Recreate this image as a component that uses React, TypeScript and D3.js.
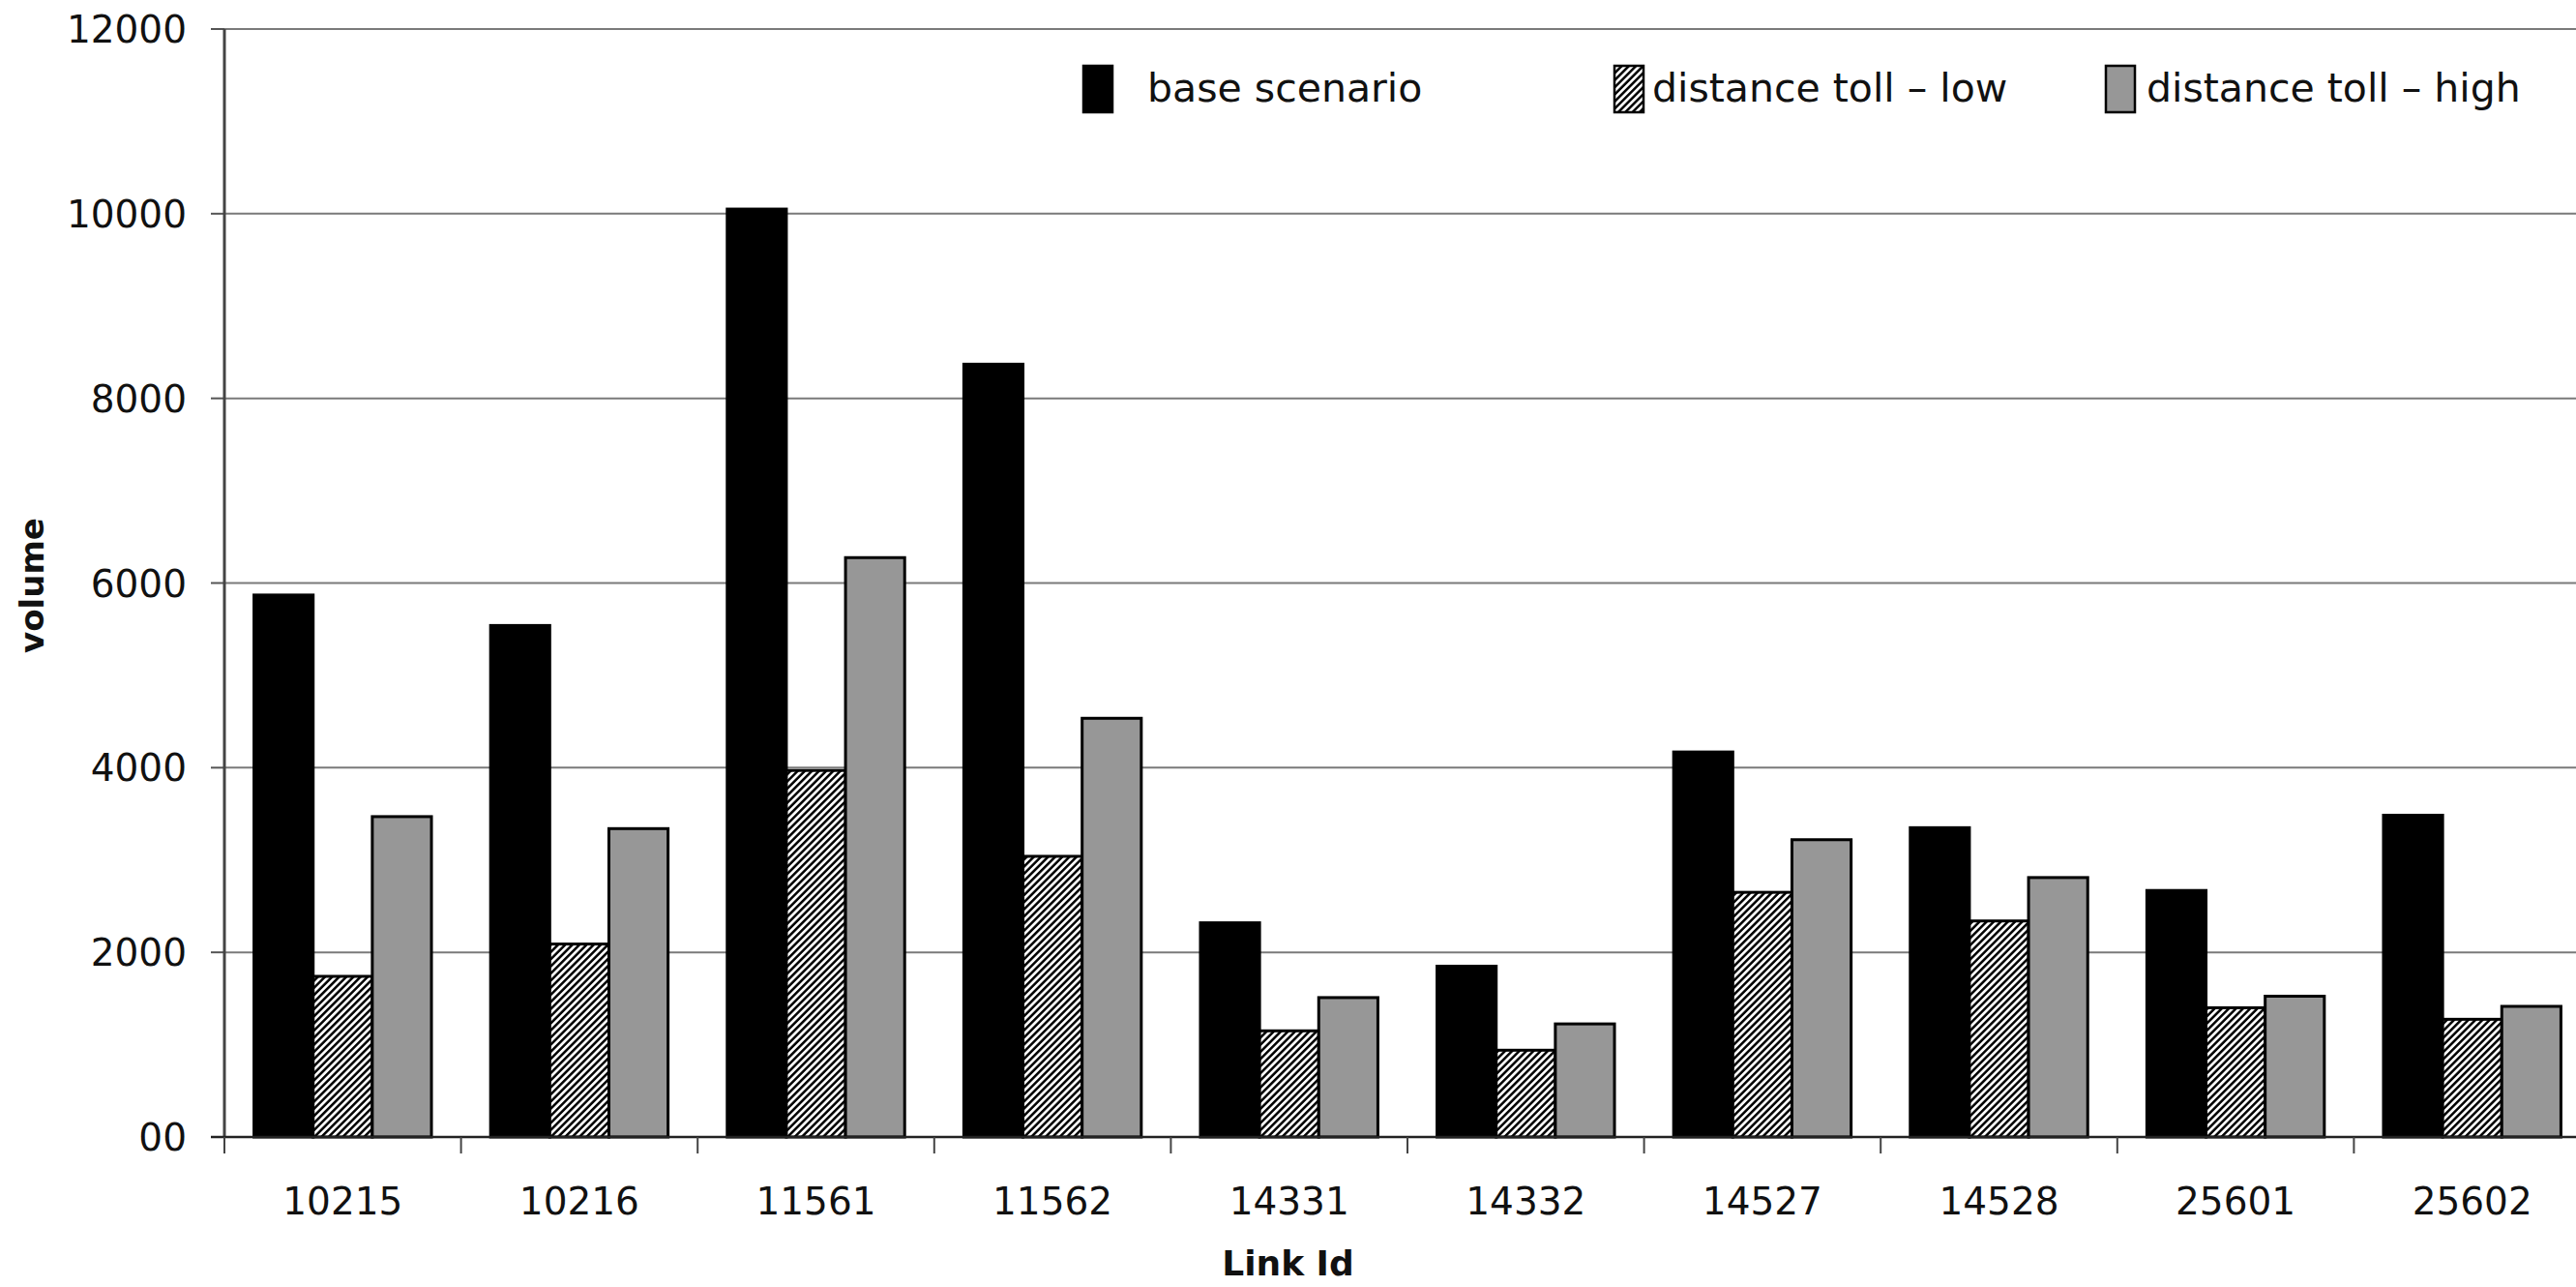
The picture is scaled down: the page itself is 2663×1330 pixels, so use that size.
import React from "react";
import * as d3 from "d3";

const categories = ["10215", "10216", "11561", "11562", "14331", "14332", "14527", "14528", "25601", "25602"];
const seriesNames = ["base scenario", "distance toll \u2013 low", "distance toll \u2013 high"];
const baseScenario = [5870, 5540, 10050, 8370, 2320, 1850, 4170, 3350, 2670, 3485];
const tollLow = [1740, 2090, 3970, 3040, 1150, 940, 2650, 2340, 1400, 1275];
const tollHigh = [3470, 3340, 6275, 4535, 1510, 1225, 3220, 2810, 1525, 1415];
const yTicks = [0, 2000, 4000, 6000, 8000, 10000, 12000];
const yTickLabels = ["00", "2000", "4000", "6000", "8000", "10000", "12000"];

const W = 2663;
const H = 1330;
const FONT = "'DejaVu Sans', Verdana, sans-serif";

export default function App() {
  const left = 232;
  const right = 2678;
  const top = 30;
  const bottom = 1175;

  const x0 = d3.scaleBand<string>().domain(categories).range([left, right]).paddingInner(0.25).paddingOuter(0.125);
  const x1 = d3.scaleBand<string>().domain(seriesNames).range([0, x0.bandwidth()]);
  const y = d3.scaleLinear().domain([0, 12000]).range([bottom, top]);
  const step = x0.step();

  const seriesValues = [baseScenario, tollLow, tollHigh];
  const fills = ["#000", "url(#hatch)", "#979797"];

  const legendBoxX = [1120, 1669, 2177];
  const legendTextX = [1186, 1708, 2219];

  return (
    <svg width={W} height={H} style={{ position: "absolute", left: 0, top: 0, background: "#fff" }} fontFamily={FONT}>
      <defs>
        <pattern id="hatch" patternUnits="userSpaceOnUse" width={5.2} height={5.2} patternTransform="rotate(45)">
          <rect width={5.2} height={5.2} fill="#fff" />
          <line x1={1.3} y1={0} x2={1.3} y2={5.2} stroke="#000" strokeWidth={2.5} />
        </pattern>
      </defs>
      <rect width={W} height={H} fill="#fff" />

      {yTicks.slice(1).map((t) => (
        <line key={"g" + t} x1={left} x2={W} y1={y(t)} y2={y(t)} stroke="#7a7a7a" strokeWidth={2} />
      ))}
      {yTicks.map((t, i) => (
        <g key={"yt" + t}>
          <line x1={left - 14} x2={left} y1={y(t)} y2={y(t)} stroke="#555" strokeWidth={2} />
          <text x={193} y={y(t)} dy="0.36em" textAnchor="end" fontSize={39} fill="#111">
            {yTickLabels[i]}
          </text>
        </g>
      ))}

      {categories.map((c, ci) => (
        <g key={c} transform={`translate(${x0(c)},0)`}>
          {seriesNames.map((s, si) => (
            <rect
              key={s}
              x={x1(s)}
              y={y(seriesValues[si][ci])}
              width={x1.bandwidth()}
              height={y(0) - y(seriesValues[si][ci])}
              fill={fills[si]}
              stroke="#000"
              strokeWidth={3}
            />
          ))}
        </g>
      ))}

      <line x1={left} x2={left} y1={top} y2={bottom} stroke="#444" strokeWidth={3} />
      <line x1={left - 14} x2={W} y1={bottom} y2={bottom} stroke="#222" strokeWidth={2.5} />
      {d3.range(categories.length + 1).map((i) => (
        <line key={"xt" + i} x1={left + i * step} x2={left + i * step} y1={bottom} y2={bottom + 17} stroke="#444" strokeWidth={2} />
      ))}
      {categories.map((c) => (
        <text key={"xl" + c} x={(x0(c) as number) + x0.bandwidth() / 2} y={1255} textAnchor="middle" fontSize={39} fill="#111">
          {c}
        </text>
      ))}

      <text x={W / 2} y={1318} textAnchor="middle" fontSize={36} fontWeight="bold" fill="#111">
        Link Id
      </text>
      <text transform={`translate(45,605) rotate(-90)`} textAnchor="middle" fontSize={34} fontWeight="bold" fill="#111">
        volume
      </text>

      {seriesNames.map((s, i) => (
        <g key={"lg" + s}>
          <rect x={legendBoxX[i]} y={68} width={30} height={48} fill={fills[i]} stroke="#000" strokeWidth={2.5} />
          <text x={legendTextX[i]} y={105} fontSize={41} fill="#111">
            {s}
          </text>
        </g>
      ))}
    </svg>
  );
}
